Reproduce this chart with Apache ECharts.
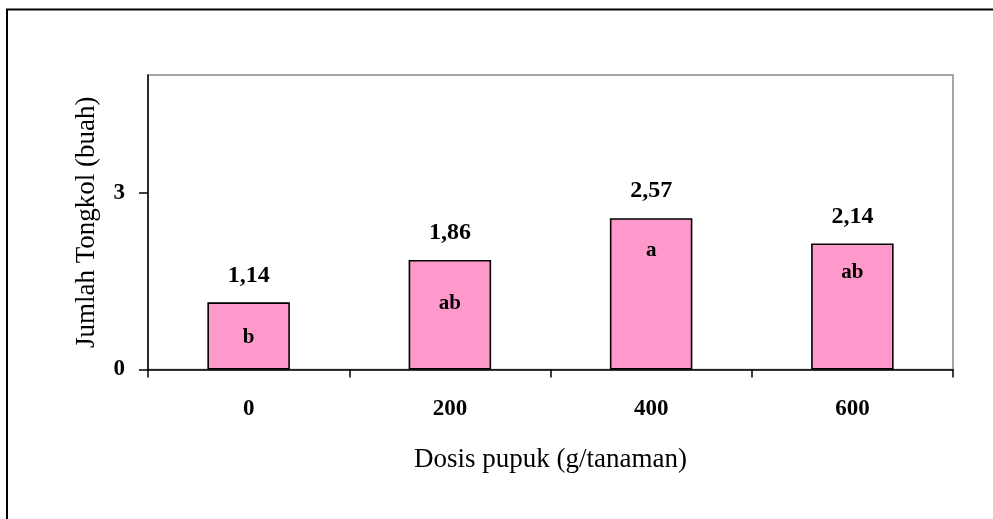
<!DOCTYPE html>
<html>
<head>
<meta charset="utf-8">
<script src="https://cdn.jsdelivr.net/npm/echarts@6/dist/echarts.min.js"></script>
<style>html,body{margin:0;padding:0;background:#fff}#c{width:993px;height:519px}</style>
</head>
<body>
<div id="c"></div>
<script>
const categories = ['0', '200', '400', '600'];
const values = [1.14, 1.86, 2.57, 2.14];
const letters = ['b', 'ab', 'a', 'ab'];
const yTicks = [0, 3];
const xName = 'Dosis pupuk (g/tanaman)';
const yName = 'Jumlah Tongkol (buah)';

// layout-only: distance of the letter label below each bar top
const letterDist = [25, 33, 22, 19];

const font = 'Liberation Serif';
const chart = echarts.init(document.getElementById('c'), null, {renderer: 'canvas'});
chart.setOption({
  animation: false,
  backgroundColor: '#fff',
  graphic: [{
    type: 'rect', shape: {x: 7, y: 9.5, width: 1100, height: 700},
    style: {fill: 'none', stroke: '#000', lineWidth: 2}, z: 0
  }],
  grid: {left: 148, top: 75, right: 40, bottom: 149.5, show: true, borderColor: '#8a8a8a', borderWidth: 1.5, backgroundColor: 'transparent'},
  xAxis: {
    type: 'category', data: categories,
    name: xName, nameLocation: 'middle', nameGap: 77,
    nameTextStyle: {fontFamily: font, fontSize: 27, color: '#000'},
    axisLine: {lineStyle: {color: '#000', width: 1.5}},
    axisTick: {show: true, length: 8, lineStyle: {color: '#000', width: 1.5}},
    axisLabel: {fontFamily: font, fontSize: 23, fontWeight: 'bold', color: '#000', margin: 28},
    splitLine: {show: false}
  },
  yAxis: {
    type: 'value', min: 0, max: 5,
    name: yName, nameLocation: 'middle', nameGap: 48,
    nameTextStyle: {fontFamily: font, fontSize: 27, color: '#000'},
    axisLine: {show: true, lineStyle: {color: '#000', width: 1.5}},
    axisTick: {show: true, length: 9, customValues: yTicks, lineStyle: {color: '#000', width: 1.5}},
    axisLabel: {fontFamily: font, fontSize: 23, fontWeight: 'bold', color: '#000', margin: 23, customValues: yTicks},
    splitLine: {show: false}
  },
  series: [{
    type: 'bar', data: values, barWidth: '41%', barGap: '-100%',
    itemStyle: {color: '#FF99CC', borderColor: '#000', borderWidth: 1.6},
    label: {
      show: true, position: 'top', distance: 15,
      fontFamily: font, fontSize: 24, fontWeight: 'bold', color: '#000',
      formatter: p => p.value.toFixed(2).replace('.', ',')
    },
    z: 2
  }, {
    type: 'bar', barWidth: '41%', barGap: '-100%',
    data: values.map((v, i) => ({
      value: v,
      label: {distance: letterDist[i]}
    })),
    itemStyle: {color: 'rgba(0,0,0,0)', borderWidth: 0},
    label: {
      show: true, position: 'insideTop',
      fontFamily: font, fontSize: 21, fontWeight: 'bold', color: '#000',
      formatter: p => letters[p.dataIndex]
    },
    z: 3
  }]
});
</script>
</body>
</html>
